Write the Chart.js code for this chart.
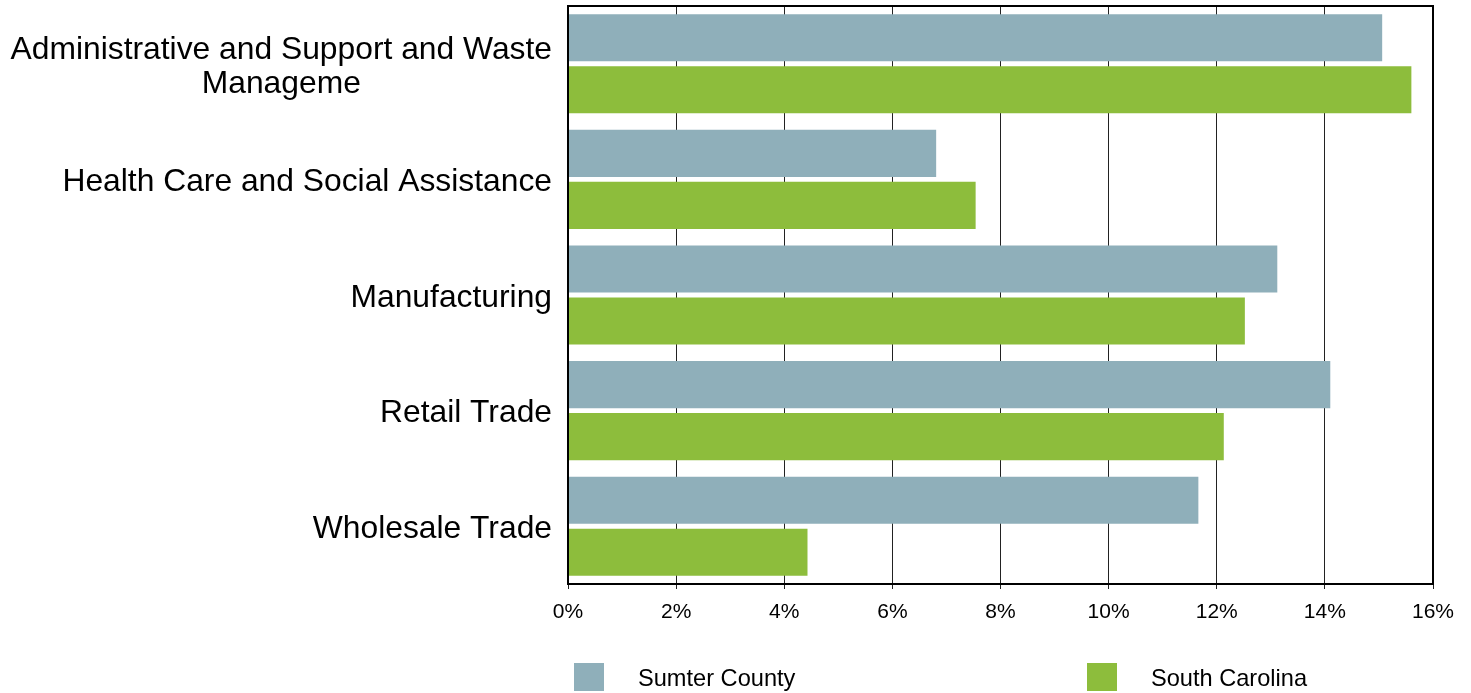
<!DOCTYPE html>
<html>
<head>
<meta charset="utf-8">
<script src="https://cdn.jsdelivr.net/npm/chart.js@4/dist/chart.umd.min.js"></script>
<style>
  html, body { margin: 0; padding: 0; background: #fff; }
</style>
</head>
<body>
<canvas id="chart" width="1471" height="693"></canvas>
<script>
const categories = [
    ['Administrative and Support and Waste', 'Manageme'],
    'Health Care and Social Assistance',
    'Manufacturing',
    'Retail Trade',
    'Wholesale Trade'
];
const sumterValues = [15.06, 6.81, 13.12, 14.10, 11.66];
const southCarolinaValues = [15.6, 7.54, 12.52, 12.13, 4.43];
const tickValues = [0, 2, 4, 6, 8, 10, 12, 14, 16];

const FONT = 'Arial, "Liberation Sans", sans-serif';

// category labels: block right-aligned to the axis, lines centered inside the block
const categoryLabels = {
    id: 'categoryLabels',
    afterDraw(chart) {
        const ctx = chart.ctx;
        const yScale = chart.scales.y;
        ctx.save();
        ctx.font = '31.8px ' + FONT;
        ctx.fillStyle = '#000';
        ctx.textAlign = 'center';
        ctx.textBaseline = 'middle';
        const right = chart.chartArea.left - 16;
        const lineHeight = 34;
        categories.forEach((label, i) => {
            const lines = Array.isArray(label) ? label : [label];
            const maxW = Math.max(...lines.map(l => ctx.measureText(l).width));
            const cx = right - maxW / 2;
            const cy = yScale.getPixelForTick(i) + 3;
            lines.forEach((line, j) => {
                ctx.fillText(line, cx, cy + (j - (lines.length - 1) / 2) * lineHeight);
            });
        });
        ctx.restore();
    }
};

// frame around plot area
const frame = {
    id: 'frame',
    afterDatasetsDraw(chart) {
        const { left, top, right, bottom } = chart.chartArea;
        const ctx = chart.ctx;
        ctx.save();
        ctx.strokeStyle = '#000';
        ctx.lineWidth = 2;
        ctx.strokeRect(left, top, right - left, bottom - top);
        ctx.restore();
    }
};

// legend laid out like the original
const legendBoxes = {
    id: 'legendBoxes',
    afterDraw(chart) {
        const ctx = chart.ctx;
        const xs = [574, 1087];
        ctx.save();
        ctx.font = '23.6px ' + FONT;
        ctx.textBaseline = 'middle';
        ctx.textAlign = 'left';
        chart.data.datasets.forEach((ds, i) => {
            ctx.fillStyle = ds.backgroundColor;
            ctx.fillRect(xs[i], 663, 30, 28);
            ctx.fillStyle = '#000';
            ctx.fillText(ds.label, xs[i] + 64, 679);
        });
        ctx.restore();
    }
};

new Chart(document.getElementById('chart'), {
    type: 'bar',
    data: {
        labels: categories,
        datasets: [
            {
                label: 'Sumter County',
                data: sumterValues,
                backgroundColor: '#8FAFBA',
                categoryPercentage: 0.9,
                barPercentage: 0.905
            },
            {
                label: 'South Carolina',
                data: southCarolinaValues,
                backgroundColor: '#8DBD3C',
                categoryPercentage: 0.9,
                barPercentage: 0.905
            }
        ]
    },
    options: {
        indexAxis: 'y',
        responsive: false,
        animation: false,
        devicePixelRatio: 1,
        layout: { padding: { top: 6, right: 38, left: 0, bottom: 0 } },
        plugins: {
            legend: { display: false },
            tooltip: { enabled: false }
        },
        scales: {
            x: {
                min: 0,
                max: 16,
                afterBuildTicks: (scale) => {
                    scale.ticks = tickValues.map(v => ({ value: v }));
                },
                afterFit: (scale) => { scale.height = 109; },
                grid: {
                    color: '#222',
                    lineWidth: 1,
                    tickLength: 5,
                    drawTicks: true
                },
                border: { display: false },
                ticks: {
                    color: '#000',
                    font: { family: FONT, size: 21 },
                    padding: 11,
                    maxRotation: 0,
                    callback: (v) => v + '%'
                }
            },
            y: {
                afterFit: (scale) => { scale.width = 568; },
                grid: { display: false },
                border: { display: false },
                ticks: { display: false }
            }
        }
    },
    plugins: [frame, categoryLabels, legendBoxes]
});
</script>
</body>
</html>
